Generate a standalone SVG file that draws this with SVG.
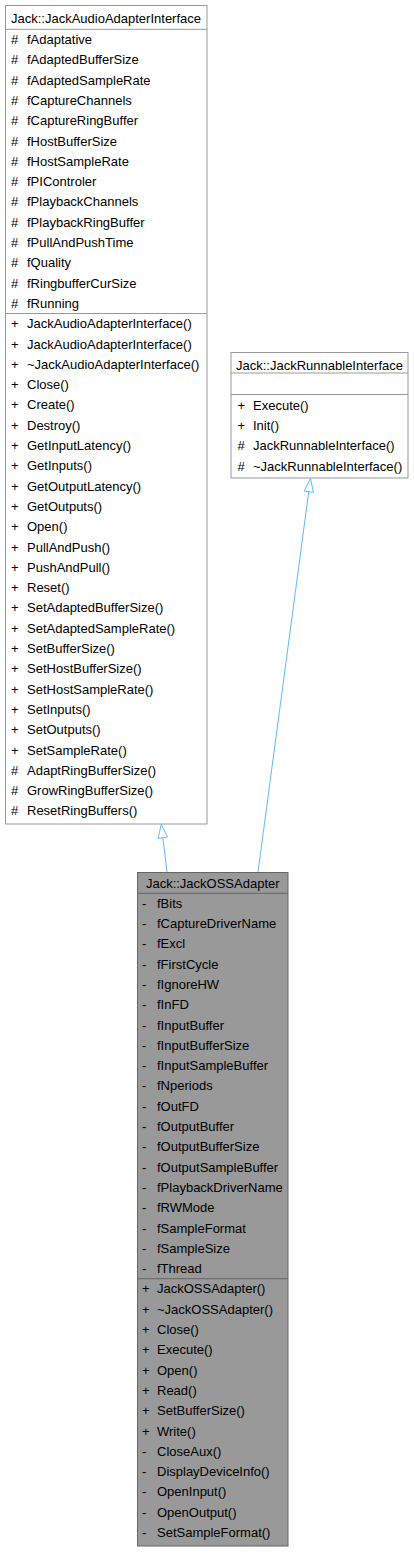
<svg xmlns="http://www.w3.org/2000/svg" width="414" height="1554" viewBox="0 0 414 1554">
<style>
text{font-family:"Liberation Sans",Arial,Helvetica,sans-serif;font-size:13px;fill:#000}
.t{text-anchor:middle}
.box{fill:#fff;stroke:#999;stroke-width:1}
.cur{fill:#999;stroke:#666;stroke-width:1}
.sep{stroke:#999;stroke-width:1}
.sepc{stroke:#666;stroke-width:1}
.edge{stroke:#63b8ff;stroke-width:1;fill:none}
.head{stroke:#63b8ff;stroke-width:1;fill:none}
</style>
<rect width="414" height="1554" fill="#fff"/>
<g id="node-JackAudioAdapterInterface">
<rect class="box" x="5.5" y="5.5" width="201.5" height="818.5"/>
<line class="sep" x1="5.5" y1="29.3" x2="207" y2="29.3"/>
<line class="sep" x1="5.5" y1="313.5" x2="207" y2="313.5"/>
<text class="t" x="106" y="22.5">Jack::JackAudioAdapterInterface</text>
<text y="44"><tspan x="11">#</tspan><tspan x="27">fAdaptative</tspan></text>
<text y="64.3"><tspan x="11">#</tspan><tspan x="27">fAdaptedBufferSize</tspan></text>
<text y="84.6"><tspan x="11">#</tspan><tspan x="27">fAdaptedSampleRate</tspan></text>
<text y="104.9"><tspan x="11">#</tspan><tspan x="27">fCaptureChannels</tspan></text>
<text y="125.2"><tspan x="11">#</tspan><tspan x="27">fCaptureRingBuffer</tspan></text>
<text y="145.5"><tspan x="11">#</tspan><tspan x="27">fHostBufferSize</tspan></text>
<text y="165.8"><tspan x="11">#</tspan><tspan x="27">fHostSampleRate</tspan></text>
<text y="186.1"><tspan x="11">#</tspan><tspan x="27">fPIControler</tspan></text>
<text y="206.4"><tspan x="11">#</tspan><tspan x="27">fPlaybackChannels</tspan></text>
<text y="226.7"><tspan x="11">#</tspan><tspan x="27">fPlaybackRingBuffer</tspan></text>
<text y="247"><tspan x="11">#</tspan><tspan x="27">fPullAndPushTime</tspan></text>
<text y="267.3"><tspan x="11">#</tspan><tspan x="27">fQuality</tspan></text>
<text y="287.6"><tspan x="11">#</tspan><tspan x="27">fRingbufferCurSize</tspan></text>
<text y="307.9"><tspan x="11">#</tspan><tspan x="27">fRunning</tspan></text>
<text y="328.2"><tspan x="11">+</tspan><tspan x="27">JackAudioAdapterInterface()</tspan></text>
<text y="348.5"><tspan x="11">+</tspan><tspan x="27">JackAudioAdapterInterface()</tspan></text>
<text y="368.8"><tspan x="11">+</tspan><tspan x="27">~JackAudioAdapterInterface()</tspan></text>
<text y="389.1"><tspan x="11">+</tspan><tspan x="27">Close()</tspan></text>
<text y="409.4"><tspan x="11">+</tspan><tspan x="27">Create()</tspan></text>
<text y="429.7"><tspan x="11">+</tspan><tspan x="27">Destroy()</tspan></text>
<text y="450"><tspan x="11">+</tspan><tspan x="27">GetInputLatency()</tspan></text>
<text y="470.3"><tspan x="11">+</tspan><tspan x="27">GetInputs()</tspan></text>
<text y="490.6"><tspan x="11">+</tspan><tspan x="27">GetOutputLatency()</tspan></text>
<text y="510.9"><tspan x="11">+</tspan><tspan x="27">GetOutputs()</tspan></text>
<text y="531.2"><tspan x="11">+</tspan><tspan x="27">Open()</tspan></text>
<text y="551.5"><tspan x="11">+</tspan><tspan x="27">PullAndPush()</tspan></text>
<text y="571.8"><tspan x="11">+</tspan><tspan x="27">PushAndPull()</tspan></text>
<text y="592.1"><tspan x="11">+</tspan><tspan x="27">Reset()</tspan></text>
<text y="612.4"><tspan x="11">+</tspan><tspan x="27">SetAdaptedBufferSize()</tspan></text>
<text y="632.7"><tspan x="11">+</tspan><tspan x="27">SetAdaptedSampleRate()</tspan></text>
<text y="653"><tspan x="11">+</tspan><tspan x="27">SetBufferSize()</tspan></text>
<text y="673.3"><tspan x="11">+</tspan><tspan x="27">SetHostBufferSize()</tspan></text>
<text y="693.6"><tspan x="11">+</tspan><tspan x="27">SetHostSampleRate()</tspan></text>
<text y="713.9"><tspan x="11">+</tspan><tspan x="27">SetInputs()</tspan></text>
<text y="734.2"><tspan x="11">+</tspan><tspan x="27">SetOutputs()</tspan></text>
<text y="754.5"><tspan x="11">+</tspan><tspan x="27">SetSampleRate()</tspan></text>
<text y="774.8"><tspan x="11">#</tspan><tspan x="27">AdaptRingBufferSize()</tspan></text>
<text y="795.1"><tspan x="11">#</tspan><tspan x="27">GrowRingBufferSize()</tspan></text>
<text y="815.4"><tspan x="11">#</tspan><tspan x="27">ResetRingBuffers()</tspan></text>
</g>
<g id="node-JackRunnableInterface">
<rect class="box" x="231" y="352.5" width="177" height="125.5"/>
<line class="sep" x1="231" y1="373" x2="408" y2="373"/>
<line class="sep" x1="231" y1="394.5" x2="408" y2="394.5"/>
<text class="t" x="319.5" y="369.5">Jack::JackRunnableInterface</text>
<text y="409.7"><tspan x="237.5">+</tspan><tspan x="253">Execute()</tspan></text>
<text y="430"><tspan x="237.5">+</tspan><tspan x="253">Init()</tspan></text>
<text y="450.3"><tspan x="237.5">#</tspan><tspan x="253">JackRunnableInterface()</tspan></text>
<text y="470.6"><tspan x="237.5">#</tspan><tspan x="253">~JackRunnableInterface()</tspan></text>
</g>
<g id="node-JackOSSAdapter">
<rect class="cur" x="137.5" y="872.5" width="150.5" height="673.5"/>
<line class="sepc" x1="137.5" y1="893.3" x2="288" y2="893.3"/>
<line class="sepc" x1="137.5" y1="1278.7" x2="288" y2="1278.7"/>
<text class="t" x="212.75" y="887.5">Jack::JackOSSAdapter</text>
<text y="907.7"><tspan x="142">-</tspan><tspan x="157">fBits</tspan></text>
<text y="928"><tspan x="142">-</tspan><tspan x="157">fCaptureDriverName</tspan></text>
<text y="948.3"><tspan x="142">-</tspan><tspan x="157">fExcl</tspan></text>
<text y="968.6"><tspan x="142">-</tspan><tspan x="157">fFirstCycle</tspan></text>
<text y="988.9"><tspan x="142">-</tspan><tspan x="157">fIgnoreHW</tspan></text>
<text y="1009.2"><tspan x="142">-</tspan><tspan x="157">fInFD</tspan></text>
<text y="1029.5"><tspan x="142">-</tspan><tspan x="157">fInputBuffer</tspan></text>
<text y="1049.8"><tspan x="142">-</tspan><tspan x="157">fInputBufferSize</tspan></text>
<text y="1070.1"><tspan x="142">-</tspan><tspan x="157">fInputSampleBuffer</tspan></text>
<text y="1090.4"><tspan x="142">-</tspan><tspan x="157">fNperiods</tspan></text>
<text y="1110.7"><tspan x="142">-</tspan><tspan x="157">fOutFD</tspan></text>
<text y="1131"><tspan x="142">-</tspan><tspan x="157">fOutputBuffer</tspan></text>
<text y="1151.3"><tspan x="142">-</tspan><tspan x="157">fOutputBufferSize</tspan></text>
<text y="1171.6"><tspan x="142">-</tspan><tspan x="157">fOutputSampleBuffer</tspan></text>
<text y="1191.9"><tspan x="142">-</tspan><tspan x="157">fPlaybackDriverName</tspan></text>
<text y="1212.2"><tspan x="142">-</tspan><tspan x="157">fRWMode</tspan></text>
<text y="1232.5"><tspan x="142">-</tspan><tspan x="157">fSampleFormat</tspan></text>
<text y="1252.8"><tspan x="142">-</tspan><tspan x="157">fSampleSize</tspan></text>
<text y="1273.1"><tspan x="142">-</tspan><tspan x="157">fThread</tspan></text>
<text y="1293.4"><tspan x="142">+</tspan><tspan x="157">JackOSSAdapter()</tspan></text>
<text y="1313.7"><tspan x="142">+</tspan><tspan x="157">~JackOSSAdapter()</tspan></text>
<text y="1334"><tspan x="142">+</tspan><tspan x="157">Close()</tspan></text>
<text y="1354.3"><tspan x="142">+</tspan><tspan x="157">Execute()</tspan></text>
<text y="1374.6"><tspan x="142">+</tspan><tspan x="157">Open()</tspan></text>
<text y="1394.9"><tspan x="142">+</tspan><tspan x="157">Read()</tspan></text>
<text y="1415.2"><tspan x="142">+</tspan><tspan x="157">SetBufferSize()</tspan></text>
<text y="1435.5"><tspan x="142">+</tspan><tspan x="157">Write()</tspan></text>
<text y="1455.8"><tspan x="142">-</tspan><tspan x="157">CloseAux()</tspan></text>
<text y="1476.1"><tspan x="142">-</tspan><tspan x="157">DisplayDeviceInfo()</tspan></text>
<text y="1496.4"><tspan x="142">-</tspan><tspan x="157">OpenInput()</tspan></text>
<text y="1516.7"><tspan x="142">-</tspan><tspan x="157">OpenOutput()</tspan></text>
<text y="1537"><tspan x="142">-</tspan><tspan x="157">SetSampleFormat()</tspan></text>
</g>
<g id="connectors">
<path class="edge" d="M167,872 L162.85,837.7"/>
<polygon class="head" points="161.2,824.5 167.5,837.1 158.2,838.3"/>
<path class="edge" d="M258,872 L308.74,491.7"/>
<polygon class="head" points="310.5,478.5 313.4,492.3 304.1,491.1"/>
</g>
</svg>
